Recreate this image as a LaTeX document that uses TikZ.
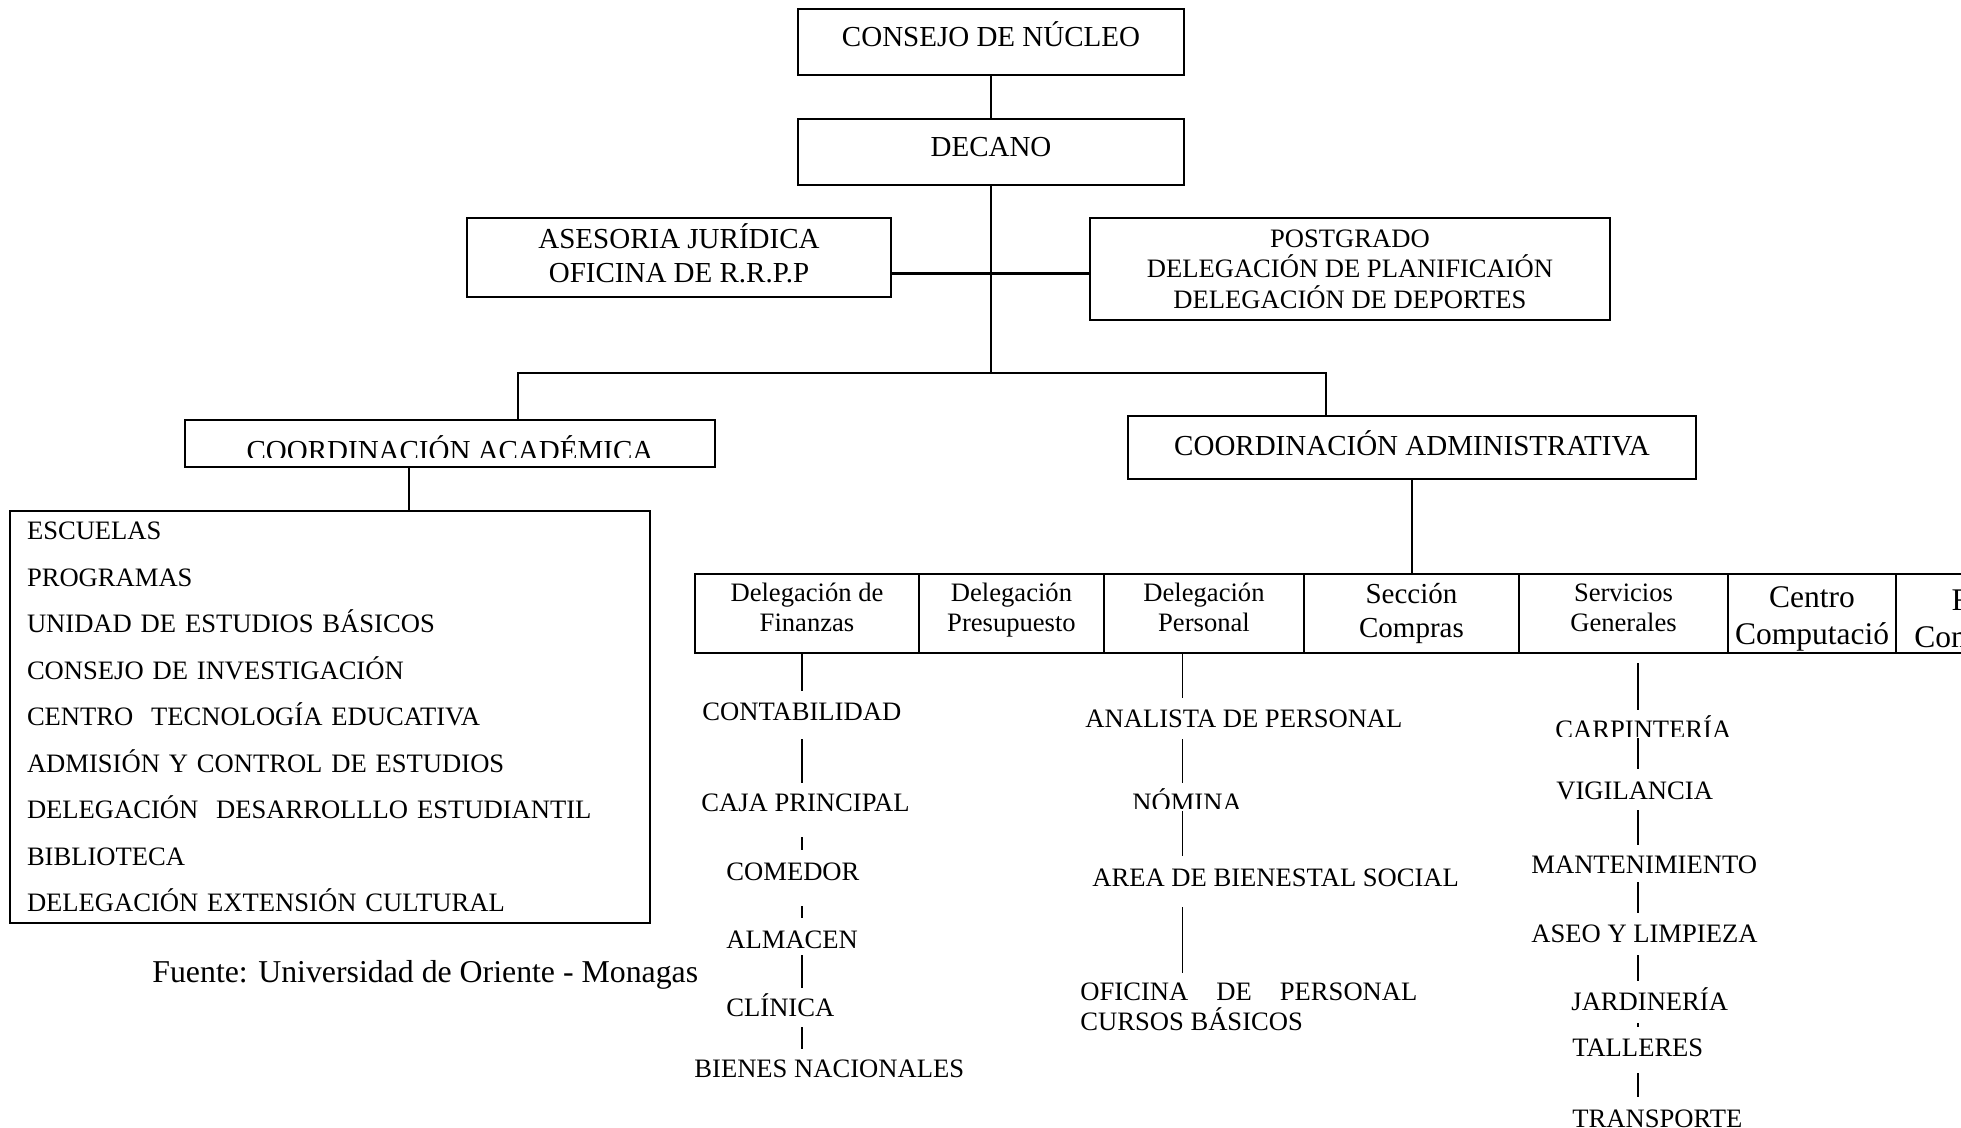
\documentclass[tikz,border=0pt]{standalone}
\usepackage{fontspec}
\setmainfont{Liberation Serif}
\usetikzlibrary{positioning}
\newcommand{\sink}[1]{\rule[-#1]{0pt}{#1}}
\newcommand{\lift}[1]{\rule{0pt}{#1}}
\begin{document}
\begin{tikzpicture}[
        x=0.5pt, y=-0.5pt,
        box/.style={rectangle, draw, line width=1pt, inner sep=2pt, align=center, font=\fontsize{14.5pt}{17pt}\selectfont},
        cell/.style={box, outer sep=0pt, minimum height=39.5pt, font=\fontsize{13.3pt}{15.2pt}\selectfont},
        unit/.style={anchor=base west, inner sep=0pt, text height=8.7pt, text depth=0pt, font=\fontsize{13.3pt}{15.2pt}\selectfont},
        link/.style={draw, line width=0.7pt}
    ]
        \useasboundingbox (0,0) rectangle (1961,1128);
        \clip (0,0) rectangle (1961,1128);

        % Top of the chart
        \node[box, minimum width=193pt, minimum height=33pt, text height=9.5pt, text depth=4.5pt] (consejo) at (991,42) {CONSEJO DE NÚCLEO};
        \node[box, minimum width=193pt, minimum height=33pt, text height=9.5pt, text depth=4.5pt] (decano) at (991,152) {DECANO};
        \node[box, minimum width=212pt, minimum height=39.5pt] (asesoria) at (679,257.5) {ASESORIA JURÍDICA\\OFICINA DE R.R.P.P\sink{4.4pt}};
        \node[box, minimum width=260pt, minimum height=51pt, font=\fontsize{13.3pt}{15.25pt}\selectfont] (postgrado) at (1350,269) {POSTGRADO\\DELEGACIÓN DE PLANIFICAIÓN\\DELEGACIÓN DE DEPORTES};

        % Coordinations
        \node[box, minimum width=265pt, minimum height=23.5pt] (acad) at (450,443.5) {};
        \begin{scope}
            \clip (acad.north west) rectangle ([yshift=5pt]acad.south east);
            \node[anchor=base, inner sep=0pt, font=\fontsize{14.5pt}{17pt}\selectfont] (acadtxt) at ([yshift=-8.75pt]acad.center) {COORDINACIÓN ACADÉMICA};
        \end{scope}
        \node[box, minimum width=284pt, minimum height=31.5pt, text height=9.5pt, text depth=1pt] (admin) at (1412,447.5) {COORDINACIÓN ADMINISTRATIVA};

        % Academic units
        \node[box, minimum width=320pt, minimum height=206pt, text width=303pt, inner xsep=8.5pt, inner ysep=0pt, align=left, font=\fontsize{13.3pt}{23.25pt}\selectfont] (lista) at (330,717) {ESCUELAS\\PROGRAMAS\\UNIDAD DE ESTUDIOS BÁSICOS\\CONSEJO DE INVESTIGACIÓN\\CENTRO~~TECNOLOGÍA EDUCATIVA\\ADMISIÓN Y CONTROL DE ESTUDIOS\\DELEGACIÓN~~DESARROLLLO ESTUDIANTIL\\BIBLIOTECA\\DELEGACIÓN EXTENSIÓN CULTURAL};
        \node[anchor=base west, inner sep=0pt, font=\fontsize{15.9pt}{18pt}\selectfont] (fuente) at (152,982) {Fuente: Universidad de Oriente - Monagas};

        % Administrative row
        \node[cell, minimum width=112pt] (finz) at (807,613.5) {Delegación de\\Finanzas\sink{6pt}};
        \node[cell, minimum width=92.5pt, right=0pt of finz] (presup) {Delegación\\Presupuesto\sink{6pt}};
        \node[cell, minimum width=100pt, right=0pt of presup] (person) {Delegación\\Personal\sink{6pt}};
        \node[cell, minimum width=107.5pt, right=0pt of person, font=\fontsize{14.5pt}{17pt}\selectfont] (compras) {Sección\\Compras};
        \node[cell, minimum width=104.5pt, right=0pt of compras] (servic) {Servicios\\Generales\sink{6pt}};
        \node[cell, minimum width=84pt, inner ysep=0pt, right=0pt of servic, font=\fontsize{15.75pt}{18.75pt}\selectfont] (centro) {\lift{15.7pt}Centro\\Computació};
        \node[cell, minimum width=84pt, inner ysep=0pt, right=0pt of centro, font=\fontsize{15.75pt}{18.75pt}\selectfont] (fondo) {\lift{15.7pt}Fdo.\\Comercial};

        % Finanzas column
        \node[unit] (contab) at (702,720) {CONTABILIDAD};
        \node[unit] (caja) at (701,811) {CAJA PRINCIPAL};
        \node[unit] (comedor) at (726,880) {COMEDOR};
        \node[unit] (almacen) at (726,948) {ALMACEN};
        \node[unit] (clinica) at (726,1016) {CLÍNICA};
        \node[unit] (bienes) at (694,1077) {BIENES NACIONALES};

        % Personal column
        \node[unit] (analista) at (1085,727) {ANALISTA DE PERSONAL};
        \begin{scope}
            \clip (1100,770) rectangle (1260,808);
            \node[unit] (nomina) at (1132,811) {NÓMINA};
        \end{scope}
        \node[unit] (area) at (1092,886) {AREA DE BIENESTAL SOCIAL};
        \node[anchor=north west, inner sep=0pt, align=left, font=\fontsize{13.3pt}{15pt}\selectfont] (oficina) at (1080,982) {\makebox[168.5pt][s]{OFICINA DE PERSONAL}\\CURSOS BÁSICOS};

        % Servicios column
        \begin{scope}
            \clip (1540,700) rectangle (1760,736);
            \node[unit] (carp) at (1555,738) {CARPINTERÍA};
        \end{scope}
        \node[unit] (vig) at (1556,799) {VIGILANCIA};
        \node[unit] (mant) at (1531,873) {MANTENIMIENTO};
        \node[unit] (aseo) at (1531,942) {ASEO Y LIMPIEZA};
        \node[unit] (jard) at (1571,1010) {JARDINERÍA};
        \node[unit] (tall) at (1572,1056) {TALLERES};
        \node[unit] (trans) at (1572,1127) {TRANSPORTE};

        % Lines of the upper part
        \draw[link] (consejo) -- (decano);
        \draw[link] (decano.south) -- ++(0,187) coordinate (split);
        \draw[link, line width=1.2pt] ([yshift=-8pt]asesoria.east) -- ([yshift=-8pt]asesoria.east -| postgrado.west);
        \draw[link, line width=1pt] ([xshift=34pt]acad.north) |- (split) -| ([xshift=-43pt]admin.north);
        \draw[link] ([xshift=-20.5pt]acad.south) -- ([xshift=-20.5pt]acad.south |- lista.north);
        \draw[link] (admin.south) -- (admin.south |- compras.north);

        % Column axes
        \coordinate (colfin) at ([xshift=-2.5pt]finz.south);
        \coordinate (colper) at ([xshift=-10.75pt]person.south);
        \coordinate (colser) at ([xshift=7.25pt]servic.south);

        % Lines under Finanzas
        \draw[link, shorten >=5.5pt] (colfin) -- (contab.north -| colfin);
        \draw[link, shorten <=9.5pt, shorten >=5pt] (contab.south -| colfin) -- (caja.north -| colfin);
        \draw[link, shorten <=13pt, shorten >=6pt] (caja.south -| colfin) -- (comedor.north -| colfin);
        \draw[link, shorten <=13pt, shorten >=6pt] (comedor.south -| colfin) -- (almacen.north -| colfin);
        \draw[link, shorten <=3.5pt, shorten >=5pt] (almacen.south -| colfin) -- (clinica.north -| colfin);
        \draw[link, shorten <=5.5pt, shorten >=5pt] (clinica.south -| colfin) -- (bienes.north -| colfin);

        % Lines under Personal
        \draw[link, shorten >=5.5pt] (colper) -- (analista.north -| colper);
        \draw[link, shorten <=6pt, shorten >=5pt] (analista.south -| colper) -- (nomina.north -| colper);
        \draw[link, shorten >=6pt] (nomina.south -| colper) -- (area.north -| colper);
        \draw[link, shorten <=10.5pt, shorten >=4.5pt] (area.south -| colper) -- (oficina.north -| colper);

        % Lines under Servicios
        \draw[link, shorten <=5pt, shorten >=5pt] (colser) -- (carp.north -| colser);
        \draw[link, shorten >=6pt] (carp.south -| colser) -- (vig.north -| colser);
        \draw[link, shorten <=5.5pt, shorten >=5pt] (vig.south -| colser) -- (mant.north -| colser);
        \draw[link, shorten <=4.5pt, shorten >=5.5pt] (mant.south -| colser) -- (aseo.north -| colser);
        \draw[link, shorten <=6.5pt, shorten >=5.5pt] (aseo.south -| colser) -- (jard.north -| colser);
        \draw[link, shorten <=6.5pt, shorten >=5.5pt] (jard.south -| colser) -- (tall.north -| colser);
        \draw[link, shorten <=8.5pt, shorten >=6pt] (tall.south -| colser) -- (trans.north -| colser);

    \end{tikzpicture}
\end{document}
